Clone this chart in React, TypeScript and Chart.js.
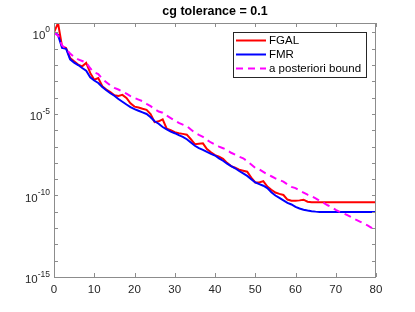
import React, { useEffect, useRef } from "react";
import { Chart, registerables } from "chart.js";

Chart.register(...registerables);

const titleText = "cg tolerance = 0.1";
const xTicks = [0, 10, 20, 30, 40, 50, 60, 70, 80];
const yMinorExponents = [0, -1, -2, -3, -4, -5, -6, -7, -8, -9, -10, -11, -12, -13, -14, -15];
const yLabelExponents = [0, -5, -10, -15];

const iterations = Array.from({ length: 81 }, (_, i) => i);

// log10 of the residual values
const fgalLog10 = [
  0.0, 0.58, -0.85, -0.95, -1.56, -1.77, -1.97, -2.08, -1.87, -2.48,
  -2.9, -2.8, -3.3, -3.5, -3.65, -3.85, -3.9, -3.83, -4.02, -4.35,
  -4.55, -4.6, -4.68, -4.75, -5.0, -5.5, -5.45, -5.33, -5.9, -6.0,
  -6.12, -6.18, -6.22, -6.27, -6.55, -6.85, -6.82, -6.8, -7.15, -7.35,
  -7.52, -7.62, -7.75, -8.0, -8.2, -8.3, -8.42, -8.48, -8.54, -8.9,
  -9.2, -9.2, -9.12, -9.45, -9.65, -9.82, -9.9, -9.97, -10.25, -10.32,
  -10.33, -10.3, -10.26, -10.38, -10.42, -10.42, -10.42, -10.42, -10.42, -10.42,
  -10.42, -10.42, -10.42, -10.42, -10.42, -10.42, -10.42, -10.42, -10.42, -10.42,
  -10.42,
];

const fmrLog10 = [
  0.0, -0.15, -0.95, -1.0, -1.65, -1.85, -2.0, -2.18, -2.35, -2.75,
  -2.95, -3.1, -3.35, -3.55, -3.73, -3.88, -4.08, -4.25, -4.42, -4.58,
  -4.7, -4.8, -4.9, -5.0, -5.2, -5.45, -5.6, -5.8, -5.95, -6.08,
  -6.18, -6.3, -6.4, -6.55, -6.75, -6.95, -7.1, -7.2, -7.33, -7.45,
  -7.55, -7.72, -7.87, -8.05, -8.2, -8.33, -8.5, -8.65, -8.8, -9.0,
  -9.2, -9.3, -9.4, -9.55, -9.8, -10.0, -10.15, -10.3, -10.45, -10.55,
  -10.7, -10.8, -10.87, -10.92, -10.96, -10.99, -11.01, -11.01, -11.01, -11.01,
  -11.01, -11.01, -11.01, -11.01, -11.01, -11.01, -11.01, -11.01, -11.01, -11.01,
  -11.01,
];

const boundLog10 = [
  0.0, -0.2, -0.8, -1.0, -1.3, -1.5, -1.65, -1.75, -1.85, -2.2,
  -2.45, -2.55, -2.85, -3.05, -3.25, -3.4, -3.5, -3.62, -3.75, -3.9,
  -4.02, -4.12, -4.22, -4.38, -4.52, -4.7, -4.85, -4.92, -5.1, -5.25,
  -5.4, -5.55, -5.65, -5.75, -5.95, -6.15, -6.28, -6.4, -6.6, -6.75,
  -6.88, -7.0, -7.1, -7.22, -7.38, -7.5, -7.62, -7.72, -7.9, -8.1,
  -8.3, -8.4, -8.55, -8.7, -8.82, -8.95, -9.05, -9.15, -9.32, -9.47,
  -9.55, -9.7, -9.82, -9.95, -10.05, -10.18, -10.33, -10.45, -10.6, -10.72,
  -10.88, -11.0, -11.1, -11.22, -11.35, -11.48, -11.6, -11.72, -11.85, -12.0,
  -12.15,
];

const FONT = '"Liberation Sans", Arial, Helvetica, sans-serif';
const AXIS_COLOR = "#262626";
const BOX_COLOR = "#8c8c8c";

const toPoints = (logs: number[]) =>
  iterations.map((x, i) => ({ x, y: Math.pow(10, logs[i]) }));

const matlabPlugin = {
  id: "matlabAxes",
  afterDraw(chart: any) {
    const { ctx, chartArea } = chart;
    const xs = chart.scales.x;
    const ys = chart.scales.y;
    const { left, right, top, bottom } = chartArea;
    ctx.save();

    // box
    ctx.strokeStyle = BOX_COLOR;
    ctx.lineWidth = 1;
    ctx.strokeRect(left + 0.5, top + 0.5, right - left - 1, bottom - top);

    // inward ticks on all four sides
    const tl = 4;
    ctx.beginPath();
    xTicks.forEach((t) => {
      const px = Math.round(xs.getPixelForValue(t)) + 0.5;
      ctx.moveTo(px, bottom);
      ctx.lineTo(px, bottom - tl);
      ctx.moveTo(px, top);
      ctx.lineTo(px, top + tl);
    });
    yMinorExponents.forEach((e) => {
      const py = Math.round(ys.getPixelForValue(Math.pow(10, e))) + 0.5;
      ctx.moveTo(left, py);
      ctx.lineTo(left + tl, py);
      ctx.moveTo(right, py);
      ctx.lineTo(right - tl, py);
    });
    ctx.stroke();

    // x labels
    ctx.fillStyle = AXIS_COLOR;
    ctx.font = `11.5px ${FONT}`;
    ctx.textAlign = "center";
    ctx.textBaseline = "middle";
    xTicks.forEach((t) => {
      ctx.fillText(String(t), xs.getPixelForValue(t), bottom + 13);
    });

    // y labels: 10^e
    yLabelExponents.forEach((e) => {
      const py = ys.getPixelForValue(Math.pow(10, e));
      const sup = String(e);
      ctx.font = `8.5px ${FONT}`;
      const sw = ctx.measureText(sup).width;
      const rx = left - 4;
      ctx.textAlign = "right";
      ctx.fillText(sup, rx, py - 2.5);
      ctx.font = `11.5px ${FONT}`;
      ctx.fillText("10", rx - sw, py + 3);
    });

    // title
    ctx.font = `bold 12.5px ${FONT}`;
    ctx.textAlign = "center";
    ctx.fillStyle = "#000000";
    ctx.fillText(titleText, (left + right) / 2, 12);

    // legend
    const lx = 233.5, ly = 32.5, lw = 133, lh = 45;
    ctx.fillStyle = "#ffffff";
    ctx.fillRect(lx, ly, lw, lh);
    ctx.strokeStyle = "#262626";
    ctx.lineWidth = 1;
    ctx.strokeRect(lx, ly, lw, lh);
    chart.data.datasets.forEach((ds: any, i: number) => {
      const ry = 40.5 + i * 14;
      ctx.beginPath();
      ctx.strokeStyle = ds.borderColor;
      ctx.lineWidth = ds.borderWidth;
      ctx.setLineDash(ds.borderDash || []);
      ctx.moveTo(236, ry);
      ctx.lineTo(266, ry);
      ctx.stroke();
      ctx.setLineDash([]);
      ctx.fillStyle = "#000000";
      ctx.font = `11.5px ${FONT}`;
      ctx.textAlign = "left";
      ctx.textBaseline = "middle";
      ctx.fillText(ds.label, 269, ry + 0.5);
    });

    ctx.restore();
  },
};

export default function App() {
  const canvasRef = useRef<HTMLCanvasElement | null>(null);

  useEffect(() => {
    if (!canvasRef.current) return;
    const chart = new Chart(canvasRef.current, {
      type: "line",
      data: {
        datasets: [
          {
            label: "FGAL",
            data: toPoints(fgalLog10),
            borderColor: "#ff0000",
            borderWidth: 2,
            pointRadius: 0,
            tension: 0,
            fill: false,
            order: 3,
          },
          {
            label: "FMR",
            data: toPoints(fmrLog10),
            borderColor: "#0000ff",
            borderWidth: 2,
            pointRadius: 0,
            tension: 0,
            fill: false,
            order: 2,
          },
          {
            label: "a posteriori bound",
            data: toPoints(boundLog10),
            borderColor: "#ff00ff",
            borderWidth: 2,
            borderDash: [7, 5],
            pointRadius: 0,
            tension: 0,
            fill: false,
            order: 1,
          },
        ],
      },
      options: {
        responsive: false,
        animation: false,
        devicePixelRatio: 1,
        layout: { padding: { left: 54, right: 39, top: 23, bottom: 35 } },
        plugins: {
          legend: { display: false },
          title: { display: false },
          tooltip: { enabled: false },
        },
        scales: {
          x: { type: "linear", min: 0, max: 80, display: false },
          y: { type: "logarithmic", min: 1e-15, max: Math.pow(10, 0.58), display: false },
        },
      },
      plugins: [matlabPlugin],
    });
    return () => chart.destroy();
  }, []);

  return (
    <div style={{ position: "fixed", left: 0, top: 0, width: 415, height: 312, background: "#ffffff" }}>
      <canvas ref={canvasRef} width={415} height={312} />
    </div>
  );
}
